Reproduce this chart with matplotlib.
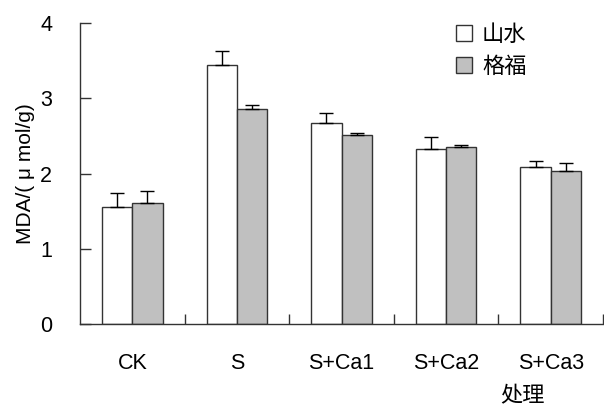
import matplotlib
matplotlib.use("Agg")
import matplotlib.pyplot as plt
from matplotlib.patches import Patch
import numpy as np

# MDA content, means and upper error bars
treatments = ["CK", "S", "S+Ca1", "S+Ca2", "S+Ca3"]
shanshui = [1.55, 3.44, 2.67, 2.33, 2.09]
shanshui_err = [0.19, 0.19, 0.13, 0.16, 0.08]
gefu = [1.61, 2.86, 2.51, 2.35, 2.03]
gefu_err = [0.16, 0.05, 0.03, 0.03, 0.11]
series_names = ["山水", "格福"]

LATIN = ["Liberation Sans", "Noto Sans CJK SC"]
CJK = ["Noto Sans CJK SC", "DejaVu Sans"]


def main():
    fig = plt.figure(figsize=(6.04, 4.07), dpi=100)
    ax = fig.add_axes([80 / 604, 1 - 324 / 407, 523 / 604, 301 / 407])

    x = np.arange(len(treatments))
    w = 0.29
    err_kw = dict(ecolor="black", elinewidth=1.0, capthick=1.0)
    ax.bar(x - w / 2, shanshui, w, color="white", edgecolor="#333333",
           linewidth=1.0, yerr=[np.zeros(len(x)), shanshui_err],
           capsize=4.7, error_kw=err_kw, zorder=2)
    ax.bar(x + w / 2, gefu, w, color="#c0c0c0", edgecolor="#333333",
           linewidth=1.0, yerr=[np.zeros(len(x)), gefu_err],
           capsize=4.7, error_kw=err_kw, zorder=2)

    ax.set_xlim(-0.5, len(treatments) - 0.5)
    ax.set_ylim(0, 4)
    ax.set_yticks([0, 1, 2, 3, 4])

    # category labels without marks, separators as minor ticks
    ax.set_xticks(x)
    ax.set_xticklabels(treatments, family=LATIN, fontsize=15.5)
    ax.set_xticks(np.arange(len(treatments)) + 0.5, minor=True)
    ax.tick_params(axis="x", which="major", length=0, pad=21)
    ax.tick_params(axis="x", which="minor", direction="in", length=7,
                   width=1.0, color="#333333")
    ax.tick_params(axis="y", direction="in", length=8, width=1.0,
                   color="#333333", pad=20, labelsize=15.5)
    for lab in ax.get_yticklabels():
        lab.set_family(LATIN)

    for side in ("top", "right"):
        ax.spines[side].set_visible(False)
    for side in ("left", "bottom"):
        ax.spines[side].set_color("#333333")
        ax.spines[side].set_linewidth(1.0)

    ax.set_ylabel("MDA/( μ mol/g)", family=LATIN, fontsize=15, labelpad=4)
    fig.text(523 / 604, 1 - 396 / 407, "处理", family=CJK, fontsize=16,
             ha="center", va="center")

    handles = [Patch(facecolor="white", edgecolor="#333333", linewidth=1.0),
               Patch(facecolor="#c0c0c0", edgecolor="#333333", linewidth=1.0)]
    fig.legend(handles, series_names, loc="upper left",
               bbox_to_anchor=(456 / 604, 1 - 23 / 407), frameon=False,
               prop={"family": CJK, "size": 16}, handlelength=0.72,
               handleheight=0.7, handletextpad=0.45, labelspacing=0.4,
               borderpad=0, borderaxespad=0)

    fig.savefig("out.png", dpi=100)


if __name__ == "__main__":
    main()
